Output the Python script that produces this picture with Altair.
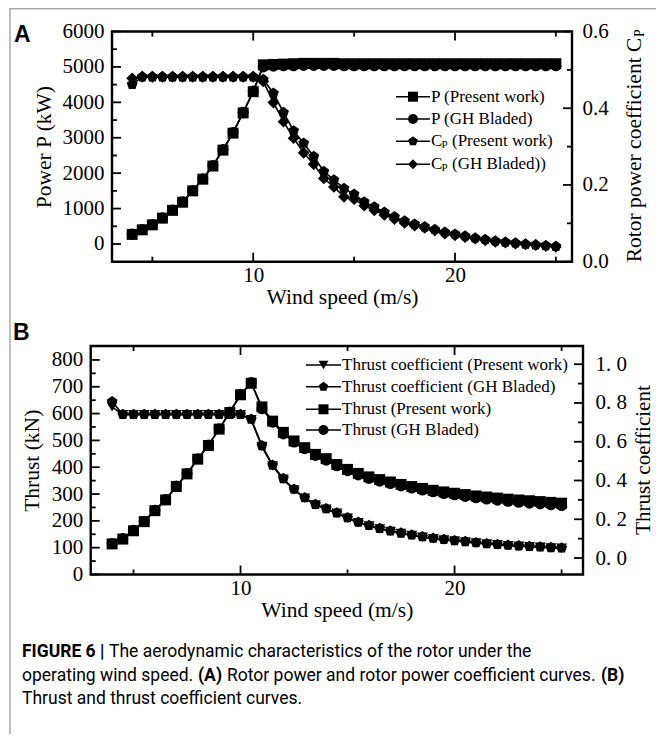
import altair as alt
import pandas as pd

# ------------------------------------------------------------------ data
wind = [4.0, 4.5, 5.0, 5.5, 6.0, 6.5, 7.0, 7.5, 8.0, 8.5, 9.0, 9.5, 10.0,
        10.5, 11.0, 11.5, 12.0, 12.5, 13.0, 13.5, 14.0, 14.5, 15.0,
        15.5, 16.0, 16.5, 17.0, 17.5, 18.0, 18.5, 19.0, 19.5, 20.0,
        20.5, 21.0, 21.5, 22.0, 22.5, 23.0, 23.5, 24.0, 24.5, 25.0]

# Panel A: power (kW) and power coefficient
p_present = [270, 400, 540, 730, 950, 1180, 1500, 1830, 2200, 2650, 3130, 3700, 4300,
             5060, 5070, 5080, 5090, 5100, 5100, 5100, 5100, 5090, 5090,
             5090, 5090, 5090, 5090, 5090, 5090, 5090, 5090, 5090, 5090,
             5090, 5090, 5090, 5090, 5090, 5090, 5090, 5090, 5090, 5090]
p_gh = [280, 410, 550, 740, 960, 1190, 1510, 1840, 2220, 2670, 3150, 3720, 4320,
        5000, 5020, 5030, 5030, 5040, 5040, 5040, 5040, 5030, 5030,
        5030, 5030, 5030, 5030, 5030, 5030, 5030, 5030, 5030, 5030,
        5030, 5030, 5030, 5030, 5030, 5030, 5030, 5030, 5030, 5030]
cp_present = [0.462, 0.482, 0.482, 0.482, 0.482, 0.482, 0.482, 0.482, 0.482, 0.482, 0.482, 0.482, 0.482,
              0.475, 0.439, 0.389, 0.341, 0.309, 0.274, 0.235, 0.213, 0.191, 0.176,
              0.156, 0.143, 0.129, 0.117, 0.106, 0.098, 0.091, 0.084, 0.077, 0.072,
              0.067, 0.062, 0.058, 0.054, 0.051, 0.049, 0.046, 0.044, 0.042, 0.040]
cp_gh = [0.478, 0.482, 0.482, 0.482, 0.482, 0.482, 0.482, 0.482, 0.482, 0.482, 0.482, 0.482, 0.482,
         0.470, 0.415, 0.365, 0.322, 0.284, 0.254, 0.217, 0.195, 0.169, 0.163,
         0.146, 0.134, 0.122, 0.111, 0.101, 0.094, 0.088, 0.081, 0.073, 0.069,
         0.064, 0.060, 0.056, 0.052, 0.050, 0.047, 0.045, 0.043, 0.041, 0.039]

# Panel B: thrust (kN) and thrust coefficient
thrust_present = [114, 132, 163, 197, 238, 278, 328, 375, 430, 481, 542, 604, 670,
                  713, 625, 572, 530, 498, 473, 448, 432, 410, 392,
                  377, 364, 354, 345, 336, 328, 321, 314, 308, 303,
                  298, 293, 289, 285, 281, 278, 275, 272, 269, 266]
thrust_gh = [116, 134, 165, 199, 240, 280, 330, 377, 432, 483, 544, 606, 672,
             716, 618, 568, 524, 494, 469, 444, 426, 405, 387,
             371, 358, 348, 339, 330, 322, 315, 308, 302, 297,
             291, 286, 281, 277, 273, 269, 266, 263, 260, 257]
ct_present = [0.780, 0.739, 0.739, 0.739, 0.739, 0.739, 0.739, 0.739, 0.739, 0.739, 0.739, 0.739, 0.739,
              0.713, 0.575, 0.475, 0.406, 0.351, 0.308, 0.274, 0.252, 0.231, 0.205,
              0.182, 0.165, 0.150, 0.137, 0.127, 0.116, 0.107, 0.099, 0.093, 0.088,
              0.083, 0.077, 0.072, 0.068, 0.064, 0.061, 0.058, 0.055, 0.052, 0.050]
ct_gh = [0.807, 0.741, 0.741, 0.741, 0.741, 0.741, 0.741, 0.741, 0.741, 0.741, 0.741, 0.741, 0.741,
         0.716, 0.580, 0.479, 0.410, 0.355, 0.311, 0.277, 0.255, 0.233, 0.208,
         0.185, 0.168, 0.153, 0.140, 0.129, 0.119, 0.110, 0.102, 0.096, 0.090,
         0.085, 0.079, 0.074, 0.070, 0.066, 0.063, 0.060, 0.057, 0.054, 0.052]

# tick values
x_major = [10, 20]
x_minor = [5, 15, 25]
p_major = [0, 1000, 2000, 3000, 4000, 5000, 6000]
p_minor = [500, 1500, 2500, 3500, 4500, 5500]
cp_major = [0.0, 0.2, 0.4, 0.6]
cp_minor = [0.1, 0.3, 0.5]
t_major = [0, 100, 200, 300, 400, 500, 600, 700, 800]
t_minor = [50, 150, 250, 350, 450, 550, 650, 750]
ct_major = [0.0, 0.2, 0.4, 0.6, 0.8, 1.0]
ct_minor = [0.1, 0.3, 0.5, 0.7, 0.9]

legend_a = ["P (Present work)", "P (GH Bladed)", "(Present work)", "(GH Bladed))"]
legend_b = ["Thrust coefficient (Present work)", "Thrust coefficient (GH Bladed)",
            "Thrust (Present work)", "Thrust (GH Bladed)"]

caption_1 = ["FIGURE 6 |", "The aerodynamic characteristics of the rotor under the"]
caption_2 = ["operating wind speed.", "(A)", "Rotor power and rotor power coefficient curves.", "(B)"]
caption_3 = "Thrust and thrust coefficient curves."

# ------------------------------------------------------------------ layout
SERIF = "Liberation Serif"
SANS = "Roboto"
W, H = 648, 726
AX0, AX1, AY0, AY1 = 104, 564, 23.5, 253.7
BX0, BX1, BY0, BY1 = 82.7, 575, 338, 566.5
PENT = "M0,-1L0.951,-0.309L0.588,0.809L-0.588,0.809L-0.951,-0.309Z"
MS = 120

xA = alt.Scale(domain=[3, 25.8], range=[AX0, AX1], zero=False, nice=False)
pA = alt.Scale(domain=[-500, 6000], range=[AY1, AY0], zero=False, nice=False)
cpA = alt.Scale(domain=[0, 0.6], range=[AY1, AY0], zero=False, nice=False)
xB = alt.Scale(domain=[3, 26], range=[BX0, BX1], zero=False, nice=False)
tB = alt.Scale(domain=[0, 852], range=[BY1, BY0], zero=False, nice=False)
ctB = alt.Scale(domain=[-0.085, 1.094], range=[BY1, BY0], zero=False, nice=False)

one = pd.DataFrame({"k": [0]})


def series(yvals, xscale, yscale, shape, size=MS, xaxis=None, yaxis=None):
    df = pd.DataFrame({"wind": wind, "val": yvals})
    return alt.Chart(df).mark_line(
        color="black", strokeWidth=1.6,
        point=alt.OverlayMarkDef(shape=shape, filled=True, size=size, color="black", opacity=1),
    ).encode(
        x=alt.X("wind:Q", scale=xscale, axis=xaxis),
        y=alt.Y("val:Q", scale=yscale, axis=yaxis),
    )


def yticks(vals, scale, x0, x1):
    return alt.Chart(pd.DataFrame({"v": vals})).mark_rule(color="black", strokeWidth=1.8).encode(
        y=alt.Y("v:Q", scale=scale, axis=None), x=alt.value(x0), x2=alt.value(x1))


def xticks(vals, scale, y0, y1):
    return alt.Chart(pd.DataFrame({"v": vals})).mark_rule(color="black", strokeWidth=1.8).encode(
        x=alt.X("v:Q", scale=scale, axis=None), y=alt.value(y0), y2=alt.value(y1))


def frame(x0, x1, y0, y1):
    return alt.Chart(one).mark_rect(fillOpacity=0, stroke="black", strokeWidth=2.4).encode(
        x=alt.value(x0), x2=alt.value(x1), y=alt.value(y0), y2=alt.value(y1))


def text(t, x, y, size, font=SERIF, weight="normal", align="left", angle=0):
    return alt.Chart(one).mark_text(
        text=t, font=font, fontSize=size, fontWeight=weight, align=align,
        baseline="middle", angle=angle, color="black").encode(x=alt.value(x), y=alt.value(y))


def hline(x0, x1, y, color="black", width=1.5):
    return alt.Chart(one).mark_rule(color=color, strokeWidth=width).encode(
        x=alt.value(x0), x2=alt.value(x1), y=alt.value(y))


def marker(shape, x, y, size=100):
    return alt.Chart(one).mark_point(shape=shape, filled=True, size=size, color="black", opacity=1).encode(
        x=alt.value(x), y=alt.value(y))


layers = []

# ---------------- panel A
axA_x = alt.Axis(values=x_major, format="d", title="Wind speed (m/s)", orient="bottom",
                 offset=AY1 - H, labelPadding=3, titlePadding=1)
axA_p = alt.Axis(values=p_major, format="d", title="Power P (kW)", orient="left",
                 offset=-AX0, labelPadding=8, titlePadding=7)
axA_cp = alt.Axis(values=cp_major, format=".1f", title=None, orient="right",
                  offset=AX1 - W, labelPadding=10)

layers.append(series(p_present, xA, pA, "square", xaxis=axA_x, yaxis=axA_p))
layers.append(series(p_gh, xA, pA, "circle"))
layers.append(series(cp_present, xA, cpA, PENT, size=130, yaxis=axA_cp))
layers.append(series(cp_gh, xA, cpA, "diamond", size=140))

layers += [
    yticks(p_major, pA, AX0, AX0 + 9), yticks(p_minor, pA, AX0, AX0 + 5),
    yticks(cp_major, cpA, AX1 - 9, AX1), yticks(cp_minor, cpA, AX1 - 5, AX1),
    xticks(x_major, xA, AY1 - 9, AY1), xticks(x_minor, xA, AY1 - 5, AY1),
    xticks(x_major, xA, AY0, AY0 + 9), xticks(x_minor, xA, AY0, AY0 + 5),
    frame(AX0, AX1, AY0, AY1),
]

# right title of A with subscript
layers.append(text("Rotor power coefficient C", 627, 142, 21.5, align="center", angle=270))
layers.append(text("P", 632, 25, 14, align="center", angle=270))

# legend A
leg_y_a = [88.7, 111, 133.3, 156.3]
shapes_a = ["square", "circle", PENT, "diamond"]
for i in range(4):
    layers.append(hline(388, 422, leg_y_a[i]))
    layers.append(marker(shapes_a[i], 405, leg_y_a[i]))
    if i < 2:
        layers.append(text(legend_a[i], 423, leg_y_a[i], 17))
    else:
        layers.append(text("C", 423, leg_y_a[i], 17))
        layers.append(text("P", 433.5, leg_y_a[i] + 4, 11))
        layers.append(text(legend_a[i], 444, leg_y_a[i], 17))

layers.append(text("A", 6, 27, 23, font="Liberation Sans", weight="bold"))

# ---------------- panel B
axB_x = alt.Axis(values=x_major, format="d", title="Wind speed (m/s)", orient="bottom",
                 offset=BY1 - H, labelPadding=3, titlePadding=1)
axB_t = alt.Axis(values=t_major, format="d", title="Thrust (kN)", orient="left",
                 offset=-BX0, labelPadding=8, titlePadding=8)
axB_ct = alt.Axis(values=ct_major, title=None, orient="right",
                  offset=BX1 - W, labelPadding=12,
                  labelExpr="replace(format(datum.value, '.1f'), '.', '. ')")

layers.append(series(ct_present, xB, ctB, "triangle-down", xaxis=axB_x, yaxis=axB_ct))
layers.append(series(ct_gh, xB, ctB, PENT, size=130))
layers.append(series(thrust_present, xB, tB, "square", yaxis=axB_t))
layers.append(series(thrust_gh, xB, tB, "circle"))

layers += [
    yticks(t_major, tB, BX0, BX0 + 9), yticks(t_minor, tB, BX0, BX0 + 5),
    yticks(ct_major, ctB, BX1 - 9, BX1), yticks(ct_minor, ctB, BX1 - 5, BX1),
    xticks(x_major, xB, BY1 - 9, BY1), xticks(x_minor, xB, BY1 - 5, BY1),
    xticks(x_major, xB, BY0, BY0 + 9), xticks(x_minor, xB, BY0, BY0 + 5),
    frame(BX0, BX1, BY0, BY1),
]

layers.append(text("Thrust coefficient", 636, 452, 21, align="center", angle=270))

leg_y_b = [357, 378.7, 401.3, 422]
shapes_b = ["triangle-down", PENT, "square", "circle"]
for i in range(4):
    layers.append(hline(298, 333, leg_y_b[i]))
    layers.append(marker(shapes_b[i], 315.5, leg_y_b[i]))
    layers.append(text(legend_b[i], 334, leg_y_b[i], 17))

layers.append(text("B", 5, 325, 23, font="Liberation Sans", weight="bold"))

# ---------------- caption and border
layers.append(alt.Chart(one).mark_rule(color="#aaaaaa", strokeWidth=1.5).encode(
    x=alt.value(2), y=alt.value(0), y2=alt.value(H)))
layers.append(hline(2, W, 0.75, color="#aaaaaa", width=1.5))

layers.append(text(caption_1[0], 14, 644, 17.5, font=SANS, weight="bold"))
layers.append(text(caption_1[1], 101, 644, 17.5, font=SANS))
layers.append(text(caption_2[0], 14, 668, 17.5, font=SANS))
layers.append(text(caption_2[1], 190, 668, 17.5, font=SANS, weight="bold"))
layers.append(text(caption_2[2], 219, 668, 17.5, font=SANS))
layers.append(text(caption_2[3], 593, 668, 17.5, font=SANS, weight="bold"))
layers.append(text(caption_3, 14, 691, 17.5, font=SANS))

chart = alt.layer(*layers).resolve_scale(
    x="independent", y="independent"
).properties(
    width=W, height=H, padding=0, autosize="none"
).configure_view(
    stroke="transparent"
).configure_axis(
    grid=False, ticks=False, domain=False, tickSize=0,
    labelFont=SERIF, titleFont=SERIF, labelFontSize=21, titleFontSize=21.5,
    labelColor="black", titleColor="black", titleFontWeight="normal",
    labelFlush=False, labelOverlap=False,
)

chart.save("out.html", embed_options={"renderer": "svg", "actions": False})
